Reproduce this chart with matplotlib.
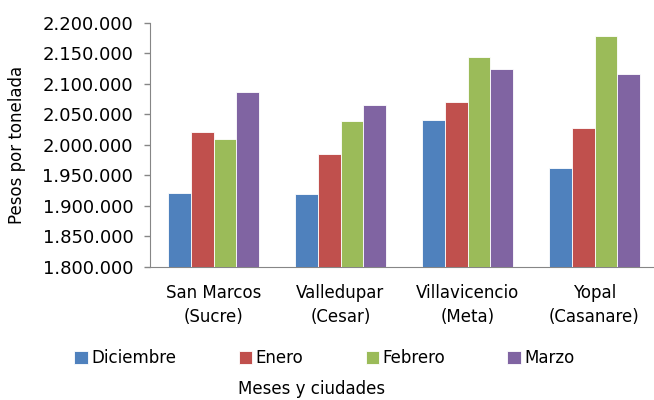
import matplotlib.pyplot as plt
import matplotlib.ticker as mticker
import numpy as np

ciudades = ['San Marcos\n(Sucre)', 'Valledupar\n(Cesar)', 'Villavicencio\n(Meta)', 'Yopal\n(Casanare)']
meses = ['Diciembre', 'Enero', 'Febrero', 'Marzo']
colores = ['#4F81BD', '#C0504D', '#9BBB59', '#8064A2']

diciembre = [1921000, 1919000, 2041000, 1963000]
enero = [2021000, 1985000, 2071000, 2028000]
febrero = [2010000, 2039000, 2144000, 2178000]
marzo = [2087000, 2065000, 2124000, 2116000]
series = [diciembre, enero, febrero, marzo]

fig = plt.figure(figsize=(6.54, 4.0), dpi=100)
ax = fig.add_axes([150 / 654, 133 / 400, 508 / 654, 244 / 400])

x = np.arange(len(ciudades))
w = 0.18
bars = []
for i, (vals, mes) in enumerate(zip(series, meses)):
    b = ax.bar(x + (i - 1.5) * w, vals, w, color=colores[i], label=mes,
               edgecolor='white', linewidth=0.6, zorder=3)
    bars.append(b)

ax.set_ylim(1800000, 2200000)
ax.set_xlim(-0.5, 3.5)
ax.yaxis.set_major_locator(mticker.MultipleLocator(50000))
ax.yaxis.set_major_formatter(mticker.FuncFormatter(lambda v, p: '{:,.0f}'.format(v).replace(',', '.')))
ax.set_xticks(x)
ax.set_xticklabels(ciudades, fontsize=12, linespacing=1.45)
ax.tick_params(axis='y', labelsize=13, length=4, width=1, color='#868686', direction='out', pad=8)
ax.tick_params(axis='x', length=0, pad=12)

for s in ['top', 'right']:
    ax.spines[s].set_visible(False)
for s in ['left', 'bottom']:
    ax.spines[s].set_color('#868686')

ax.set_ylabel('Pesos por tonelada', fontsize=12)
ax.yaxis.set_label_coords(-0.245, 0.5)

fig.legend(handles=bars, labels=meses, loc='center', bbox_to_anchor=(0.496, 1 - 358 / 400),
           ncol=4, frameon=False, fontsize=12, handlelength=0.8, handleheight=0.8,
           handletextpad=0.2, columnspacing=3.75)
fig.text(312 / 654, 1 - 389 / 400, 'Meses y ciudades', ha='center', va='center', fontsize=12)

fig.savefig('out.png', dpi=100)
